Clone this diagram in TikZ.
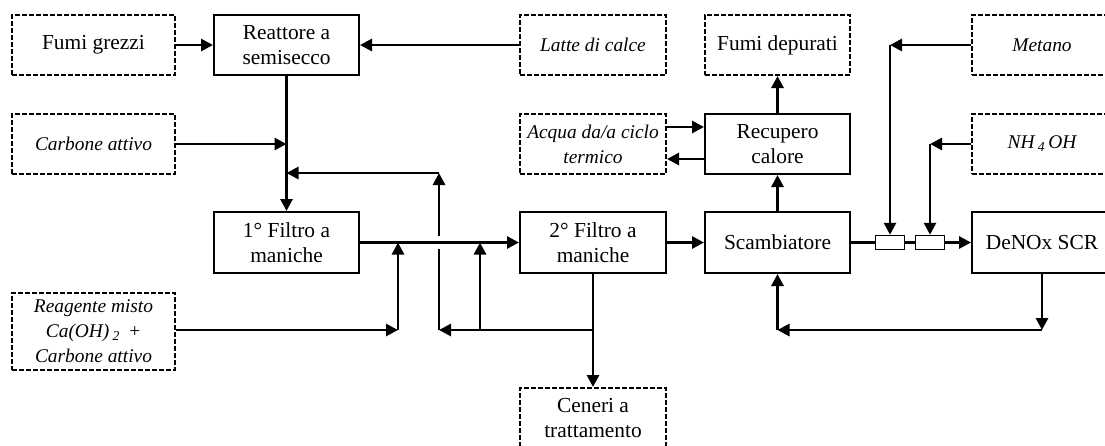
\documentclass[tikz,border=0pt]{standalone}
\usepackage{fontspec}
\setmainfont{Liberation Serif}
\usetikzlibrary{positioning,arrows.meta}

\begin{document}
\begin{tikzpicture}[x=1pt, y=-1pt,
							font=\fontsize{21.4}{25}\selectfont,
							blk/.style = {draw, line width=2pt, minimum width=145pt, minimum height=60pt, align=center, inner sep=0pt},
							src/.style = {blk, dash pattern=on 5pt off 2pt},
							srci/.style = {src, font=\fontsize{19.4}{25}\selectfont\itshape},
							flow/.style = {line width=2.8pt, -{Triangle[length=12pt,width=12pt]}},
							pipe/.style = {line width=2.8pt},
							valve/.style = {draw, line width=1.5pt, fill=white, minimum width=29pt, minimum height=14pt, inner sep=0pt}]
			\clip (0,0) rectangle (1105,445);
			
			\node[src, minimum width=163pt] (grezzi) at (93.5,45) {Fumi grezzi};
			\node[srci, minimum width=163pt] (carbone) at (93.5,144) {Carbone attivo};
			\node[srci, minimum width=163pt, minimum height=77pt] (reagente) at (93.5,331.5) {Reagente misto\\Ca(OH)\,\textsubscript{2} \,+\\Carbone attivo};
			\node[blk] (reattore) at (286.5,45) {Reattore a\\semisecco};
			\node[blk, minimum height=61pt] (filtro1) at (286.5,242.5) {1° Filtro a\\maniche};
			\node[srci, minimum width=146pt] (latte) at (593,45) {Latte di calce};
			\node[srci, minimum width=146pt] (acqua) at (593,144) {Acqua da/a ciclo\\termico};
			\node[blk, minimum width=146pt, minimum height=61pt] (filtro2) at (593,242.5) {2° Filtro a\\maniche};
			\node[src, minimum width=146pt] (ceneri) at (593,418) {Ceneri a\\trattamento};
			\node[src] (depurati) at (777.5,45) {Fumi depurati};
			\node[blk] (recupero) at (777.5,144) {Recupero\\calore};
			\node[blk, minimum height=61pt] (scamb) at (777.5,242.5) {Scambiatore};
			\node[srci, minimum width=140pt] (metano) at (1042,45) {Metano};
			\node[srci, minimum width=140pt] (nh4oh) at (1042,144) {NH\,\textsubscript{4}\,OH};
			\node[blk, minimum width=140pt, minimum height=61pt] (denox) at (1042,242.5) {DeNOx SCR};
			\node[valve] (v1) at (890,242.5) {};
			\node[valve] (v2) at (930,242.5) {};
			
			\coordinate (top) at (439,173);
			\coordinate (gapT) at (439,236);
			\coordinate (gapB) at (439,249);
			\coordinate (low) at (439,330);
			\coordinate (rg) at (398,330);
			\coordinate (fb) at (480,330);
			\coordinate (mt) at (890,45);
			\coordinate (nh) at (930,144);
			\coordinate (dn) at (denox.south |- low);
			
			\draw[flow] (grezzi.east) -- (reattore.west);
			\draw[flow] (latte.west) -- (reattore.east);
			\draw[flow] (reattore.south) -- (filtro1.north);
			\draw[flow] (carbone.east) -- (reattore.south |- carbone.east);
			\draw[flow] (gapT) -- (top);
			\draw[flow] (top) -- (reattore.south |- top);
			\draw[line width=1.3pt] (gapB) -- (low);
			\draw[flow] (filtro1.east) -- (filtro2.west);
			\draw[flow] (filtro2.south) -- (ceneri.north);
			\draw[flow] (filtro2.south |- low) -- (low);
			\draw[flow] (fb) -- (fb |- filtro2.west);
			\draw[flow] (reagente.east |- rg) -- (rg);
			\draw[flow] (rg) -- (rg |- filtro1.east);
			\draw[flow] (filtro2.east) -- (scamb.west);
			\draw[flow] (scamb.north) -- (recupero.south);
			\draw[flow] (recupero.north) -- (depurati.south);
			\draw[flow] ([yshift=17pt]acqua.east) -- ([yshift=17pt]recupero.west);
			\draw[flow] ([yshift=-15pt]recupero.west) -- ([yshift=-15pt]acqua.east);
			\draw[pipe] (scamb.east) -- (v1.west) (v1.east) -- (v2.west);
			\draw[flow] (v2.east) -- (denox.west);
			\draw[flow] (metano.west) -- (mt);
			\draw[flow] (mt) -- (v1.north);
			\draw[flow] (nh4oh.west) -- (nh);
			\draw[flow] (nh) -- (v2.north);
			\draw[flow] (denox.south) -- (dn);
			\draw[flow] (dn) -- (scamb.south |- dn);
			\draw[flow] (scamb.south |- dn) -- (scamb.south);
		\end{tikzpicture}
\end{document}
